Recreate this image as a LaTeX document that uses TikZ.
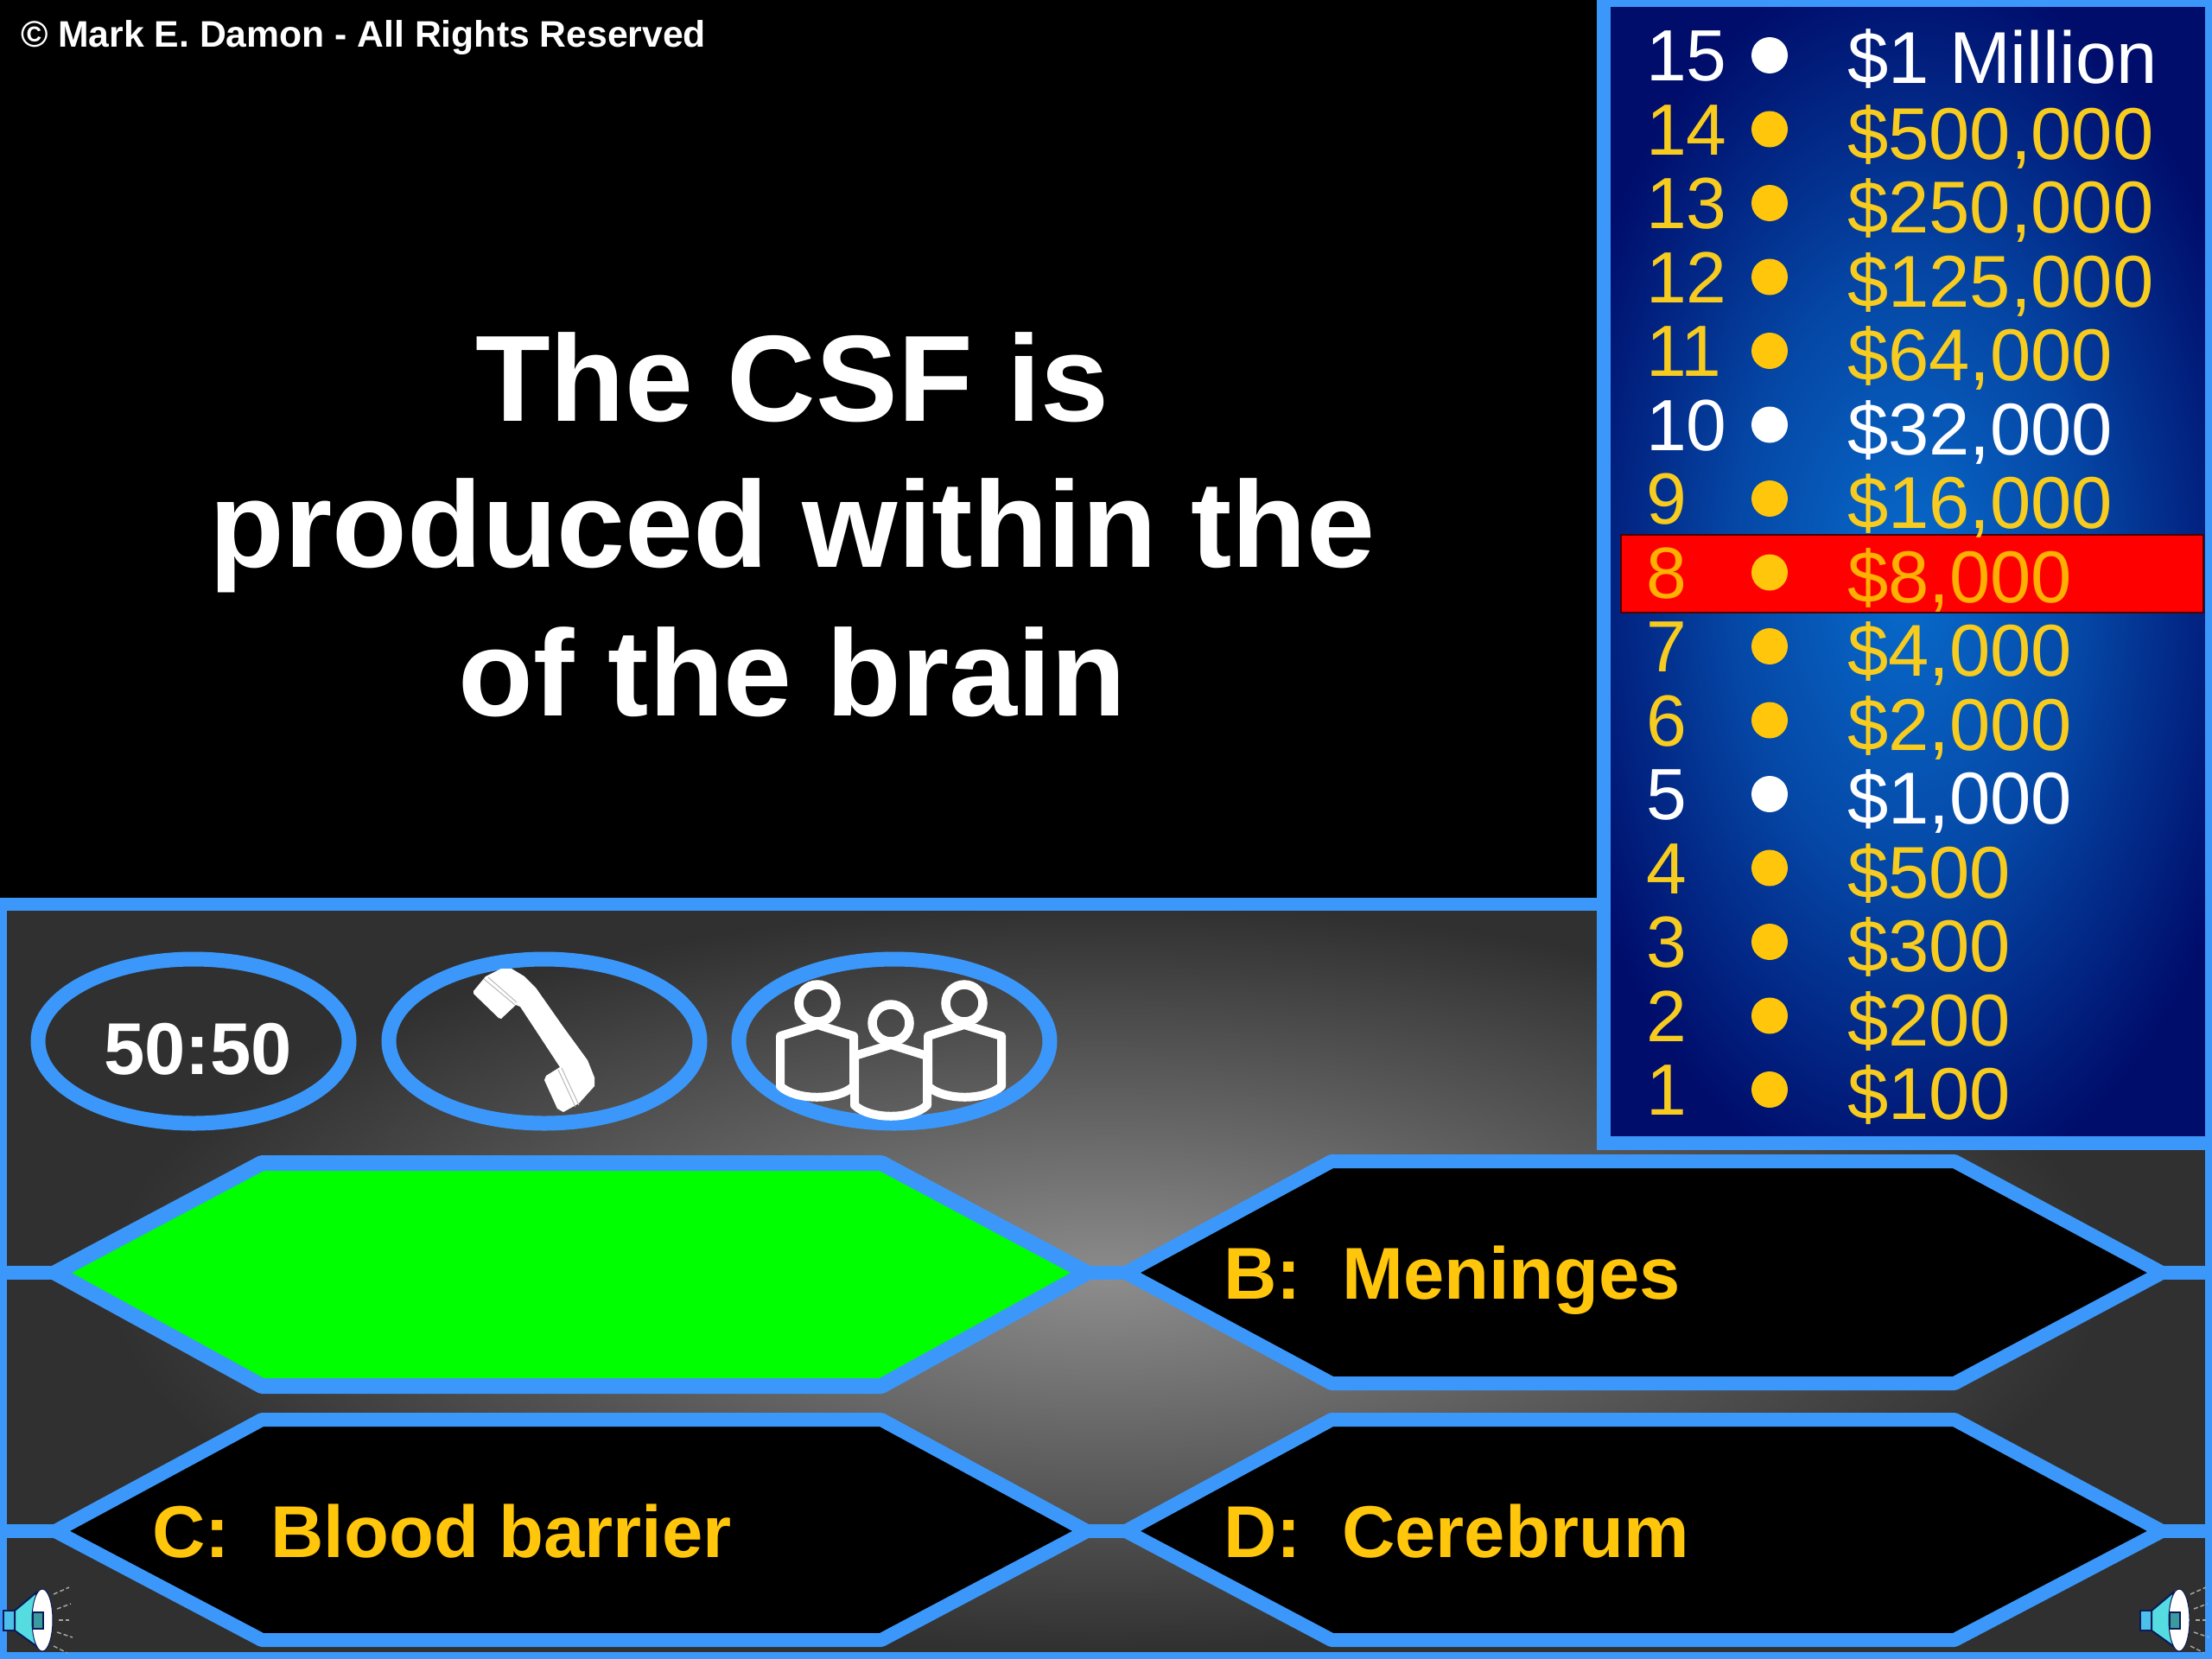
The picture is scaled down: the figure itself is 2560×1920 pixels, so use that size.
\documentclass[tikz,border=0pt]{standalone}
\usepackage{fontspec}
\setmainfont{Liberation Sans}
\definecolor{frame}{HTML}{3B98FA}
\definecolor{gold}{HTML}{FFC60B}
\definecolor{goldlad}{HTML}{F8CC1E}
\definecolor{redgold}{HTML}{FFB000}
\definecolor{graybg}{HTML}{303030}
\definecolor{ladbg}{HTML}{000D6B}
\definecolor{spkcyan}{HTML}{55DCE0}
\definecolor{spkblue}{HTML}{4CC0E8}
\definecolor{spknavy}{HTML}{0A1A5A}
\pgfdeclareradialshading{panelglow}{\pgfpointorigin}{rgb(0bp)=(.55,.55,.55); rgb(25bp)=(.19,.19,.19); rgb(50bp)=(.19,.19,.19)}
\pgfdeclareradialshading{ladderglow}{\pgfpointorigin}{rgb(0bp)=(.03,.42,.80); rgb(12bp)=(.02,.28,.65); rgb(25bp)=(0,.05,.42); rgb(50bp)=(0,.05,.42)}
\newcommand{\fsz}[1]{\fontsize{#1}{#1}\selectfont}
\tikzset{
  x=1pt,y=-1pt,
  every node/.style={inner sep=0pt,outer sep=0pt},
  hexa/.style={draw=frame,line width=16pt,line join=round,fill=black},
  link/.style={draw=frame,line width=16pt},
  lifeline/.style={draw=frame,line width=17pt},
  person/.style={draw=white,line width=10pt,line join=round},
  answer/.style={anchor=base west,text=gold,font=\bfseries\fsz{85}},
  ladder num/.style={anchor=base west,font=\fsz{84}},
  ladder amt/.style={anchor=base west,font=\fsz{85}},
  question/.style={anchor=base,text=white,font=\bfseries\fsz{142}},
  speaker/.pic={
    \fill[spkblue,draw=spknavy,line width=2pt] (4,1864) rectangle (17,1887);
    \fill[spkcyan,draw=spknavy,line width=2pt] (17,1864) -- (42,1843) -- (42,1905) -- (17,1887) -- cycle;
    \fill[white,draw=spknavy,line width=1pt] (49,1875) ellipse [x radius=12,y radius=36];
    \fill[spkcyan!70!black,draw=spknavy,line width=2pt] (38,1866) rectangle (50,1885);
    \draw[gray!70,line width=1.5pt,dash pattern=on 5pt off 3pt] (62,1845) -- (80,1837);
    \draw[gray!70,line width=1.5pt,dash pattern=on 5pt off 3pt] (66,1862) -- (82,1856);
    \draw[gray!70,line width=1.5pt,dash pattern=on 5pt off 3pt] (68,1875) -- (80,1875);
    \draw[gray!70,line width=1.5pt,dash pattern=on 5pt off 3pt] (66,1889) -- (84,1895);
    \draw[gray!70,line width=1.5pt,dash pattern=on 5pt off 3pt] (62,1905) -- (78,1913);
  }
}
\begin{document}
\begin{tikzpicture}
\useasboundingbox (0,0) rectangle (2560,1920);
\fill[black] (0,0) rectangle (2560,1920);

% lower panel
\fill[graybg] (0,1046) rectangle (2560,1920);
\begin{scope}
  \clip (0,1046) rectangle (2560,1920);
  \shade[shading=panelglow] (1280,1480) ellipse [x radius=1150,y radius=430];
\end{scope}
\draw[link,line width=15pt] (0,1046) -- (1860,1046);
\fill[frame] (0,1046) rectangle (8,1920);
\fill[frame] (2552,1320) rectangle (2560,1920);
\fill[frame] (0,1912) rectangle (2560,1920);

% ladder
\fill[ladbg] (1860,4) rectangle (2556,1320);
\begin{scope}
  \clip (1860,4) rectangle (2556,1320);
  \shade[shading=ladderglow] (2208,670) ellipse [x radius=420,y radius=720];
\end{scope}
\fill[frame] (1848,0) rectangle (1864,1331);
\fill[frame] (2552,0) rectangle (2560,1331);
\fill[frame] (1848,0) rectangle (2560,8);
\fill[frame] (1848,1315) rectangle (2560,1331);
\fill[red,draw=black!70!red,line width=1.5pt] (1876,619) rectangle (2550,709);
\foreach \n/\amt/\col/\off/\dotcol in {
  15/{\$1 Million}/white/2.5/white, 14/{\$500,000}/goldlad/5/gold, 13/{\$250,000}/goldlad/5/gold,
  12/{\$125,000}/goldlad/5/gold, 11/{\$64,000}/goldlad/5/gold, 10/{\$32,000}/white/5/white,
  9/{\$16,000}/goldlad/5/gold, 8/{\$8,000}/redgold/5/gold, 7/{\$4,000}/goldlad/5/gold,
  6/{\$2,000}/goldlad/5/gold, 5/{\$1,000}/white/5/white, 4/{\$500}/goldlad/5/gold,
  3/{\$300}/goldlad/5/gold, 2/{\$200}/goldlad/5/gold, 1/{\$100}/goldlad/5/gold}{
  \pgfmathsetmacro{\by}{93.5+85.5*(15-\n)}
  \pgfmathsetmacro{\dy}{64+85.5*(15-\n)}
  \pgfmathsetmacro{\ay}{\by+\off}
  \node[ladder num,text=\col] (num\n) at (1905,\by) {\n};
  \fill[\dotcol] (2048,\dy) circle [radius=21];
  \node[ladder amt,text=\col] (amt\n) at (2138,\ay) {\amt};
}

% copyright and question
\node[anchor=base west,text=white,font=\bfseries\fsz{42.7}] (copy) at (24,54) {© Mark E. Damon - All Rights Reserved};
\node[question] (q1) at (917,487) {The CSF is};
\node[question] (q2) at (917,656) {produced within the};
\node[question] (q3) at (917,828) {of the brain};

% lifelines
\draw[lifeline] (224,1205) ellipse [x radius=180,y radius=95];
\draw[lifeline] (630,1205) ellipse [x radius=180,y radius=95];
\draw[lifeline] (1035,1205) ellipse [x radius=180,y radius=95];
\node[text=white,font=\bfseries\fsz{85}] (fifty) at (229,1214) {50:50};

% telephone
\fill[white,line join=round] (548,1147) -- (562,1130) -- (580,1121) -- (592,1121) -- (607,1130) -- (620,1143)
  -- (653,1190) -- (680,1227) -- (688,1247) -- (688,1257) -- (670,1277) -- (652,1287) -- (645,1283)
  -- (630,1250) -- (632,1245) -- (648,1235) -- (627,1203) -- (602,1165) -- (597,1163)
  -- (580,1179) -- (577,1178) -- (548,1150) -- cycle;
\draw[gray!55,line width=1pt] (560,1133) -- (596,1163);
\draw[gray!55,line width=1pt] (565,1131) -- (598,1160);
\draw[gray!55,line width=1pt] (646,1238) -- (666,1281);
\draw[gray!55,line width=1pt] (650,1236) -- (670,1279);

% audience
\draw[person] (903,1199) -- (946,1186) -- (988,1199) -- (988,1257) .. controls (970,1274) and (921,1274) .. (903,1257) -- cycle;
\draw[person] (1074,1199) -- (1116,1186) -- (1159,1199) -- (1159,1257) .. controls (1141,1274) and (1092,1274) .. (1074,1257) -- cycle;
\draw[person] (989,1222) -- (1031,1209) -- (1073,1222) -- (1073,1279) .. controls (1055,1296) and (1007,1296) .. (989,1279) -- cycle;
\draw[white,line width=10.5pt] (946,1161) circle [radius=21.5];
\draw[white,line width=10.5pt] (1116,1161) circle [radius=21.5];
\draw[white,line width=10.5pt] (1031,1184) circle [radius=21.5];

% answer hexagons
\coordinate (aL) at (64,1473);   \coordinate (aR) at (1258,1473);
\coordinate (bL) at (1303,1473); \coordinate (bR) at (2502,1473);
\coordinate (cL) at (64,1772);   \coordinate (cR) at (1258,1772);
\coordinate (dL) at (1303,1772); \coordinate (dR) at (2502,1772);
\coordinate (leftT) at (0,1473); \coordinate (rightT) at (2560,1473);
\coordinate (leftB) at (0,1772); \coordinate (rightB) at (2560,1772);
\draw[link] (leftT) -- (aL);  \draw[link] (aR) -- (bL);  \draw[link] (bR) -- (rightT);
\draw[link] (leftB) -- (cL);  \draw[link] (cR) -- (dL);  \draw[link] (dR) -- (rightB);
\draw[hexa,fill=green,line width=18pt] (aL) -- (303,1346) -- (1020,1346) -- (aR) -- (1020,1604) -- (303,1604) -- cycle;
\draw[hexa] (bL) -- (1541,1344) -- (2262,1344) -- (bR) -- (2262,1601) -- (1541,1601) -- cycle;
\draw[hexa] (cL) -- (303,1643) -- (1020,1643) -- (cR) -- (1020,1898) -- (303,1898) -- cycle;
\draw[hexa] (dL) -- (1541,1643) -- (2262,1643) -- (dR) -- (2262,1898) -- (1541,1898) -- cycle;
\node[answer] (bt) at (1416,1503) {B:\hspace{0.56em}Meninges};
\node[answer] (ct) at (176,1802) {C:\hspace{0.56em}Blood barrier};
\node[answer] (dt) at (1416,1802) {D:\hspace{0.56em}Cerebrum};

% speakers
\pic {speaker};
\pic[xshift=2473pt] {speaker};
\end{tikzpicture}
\end{document}
